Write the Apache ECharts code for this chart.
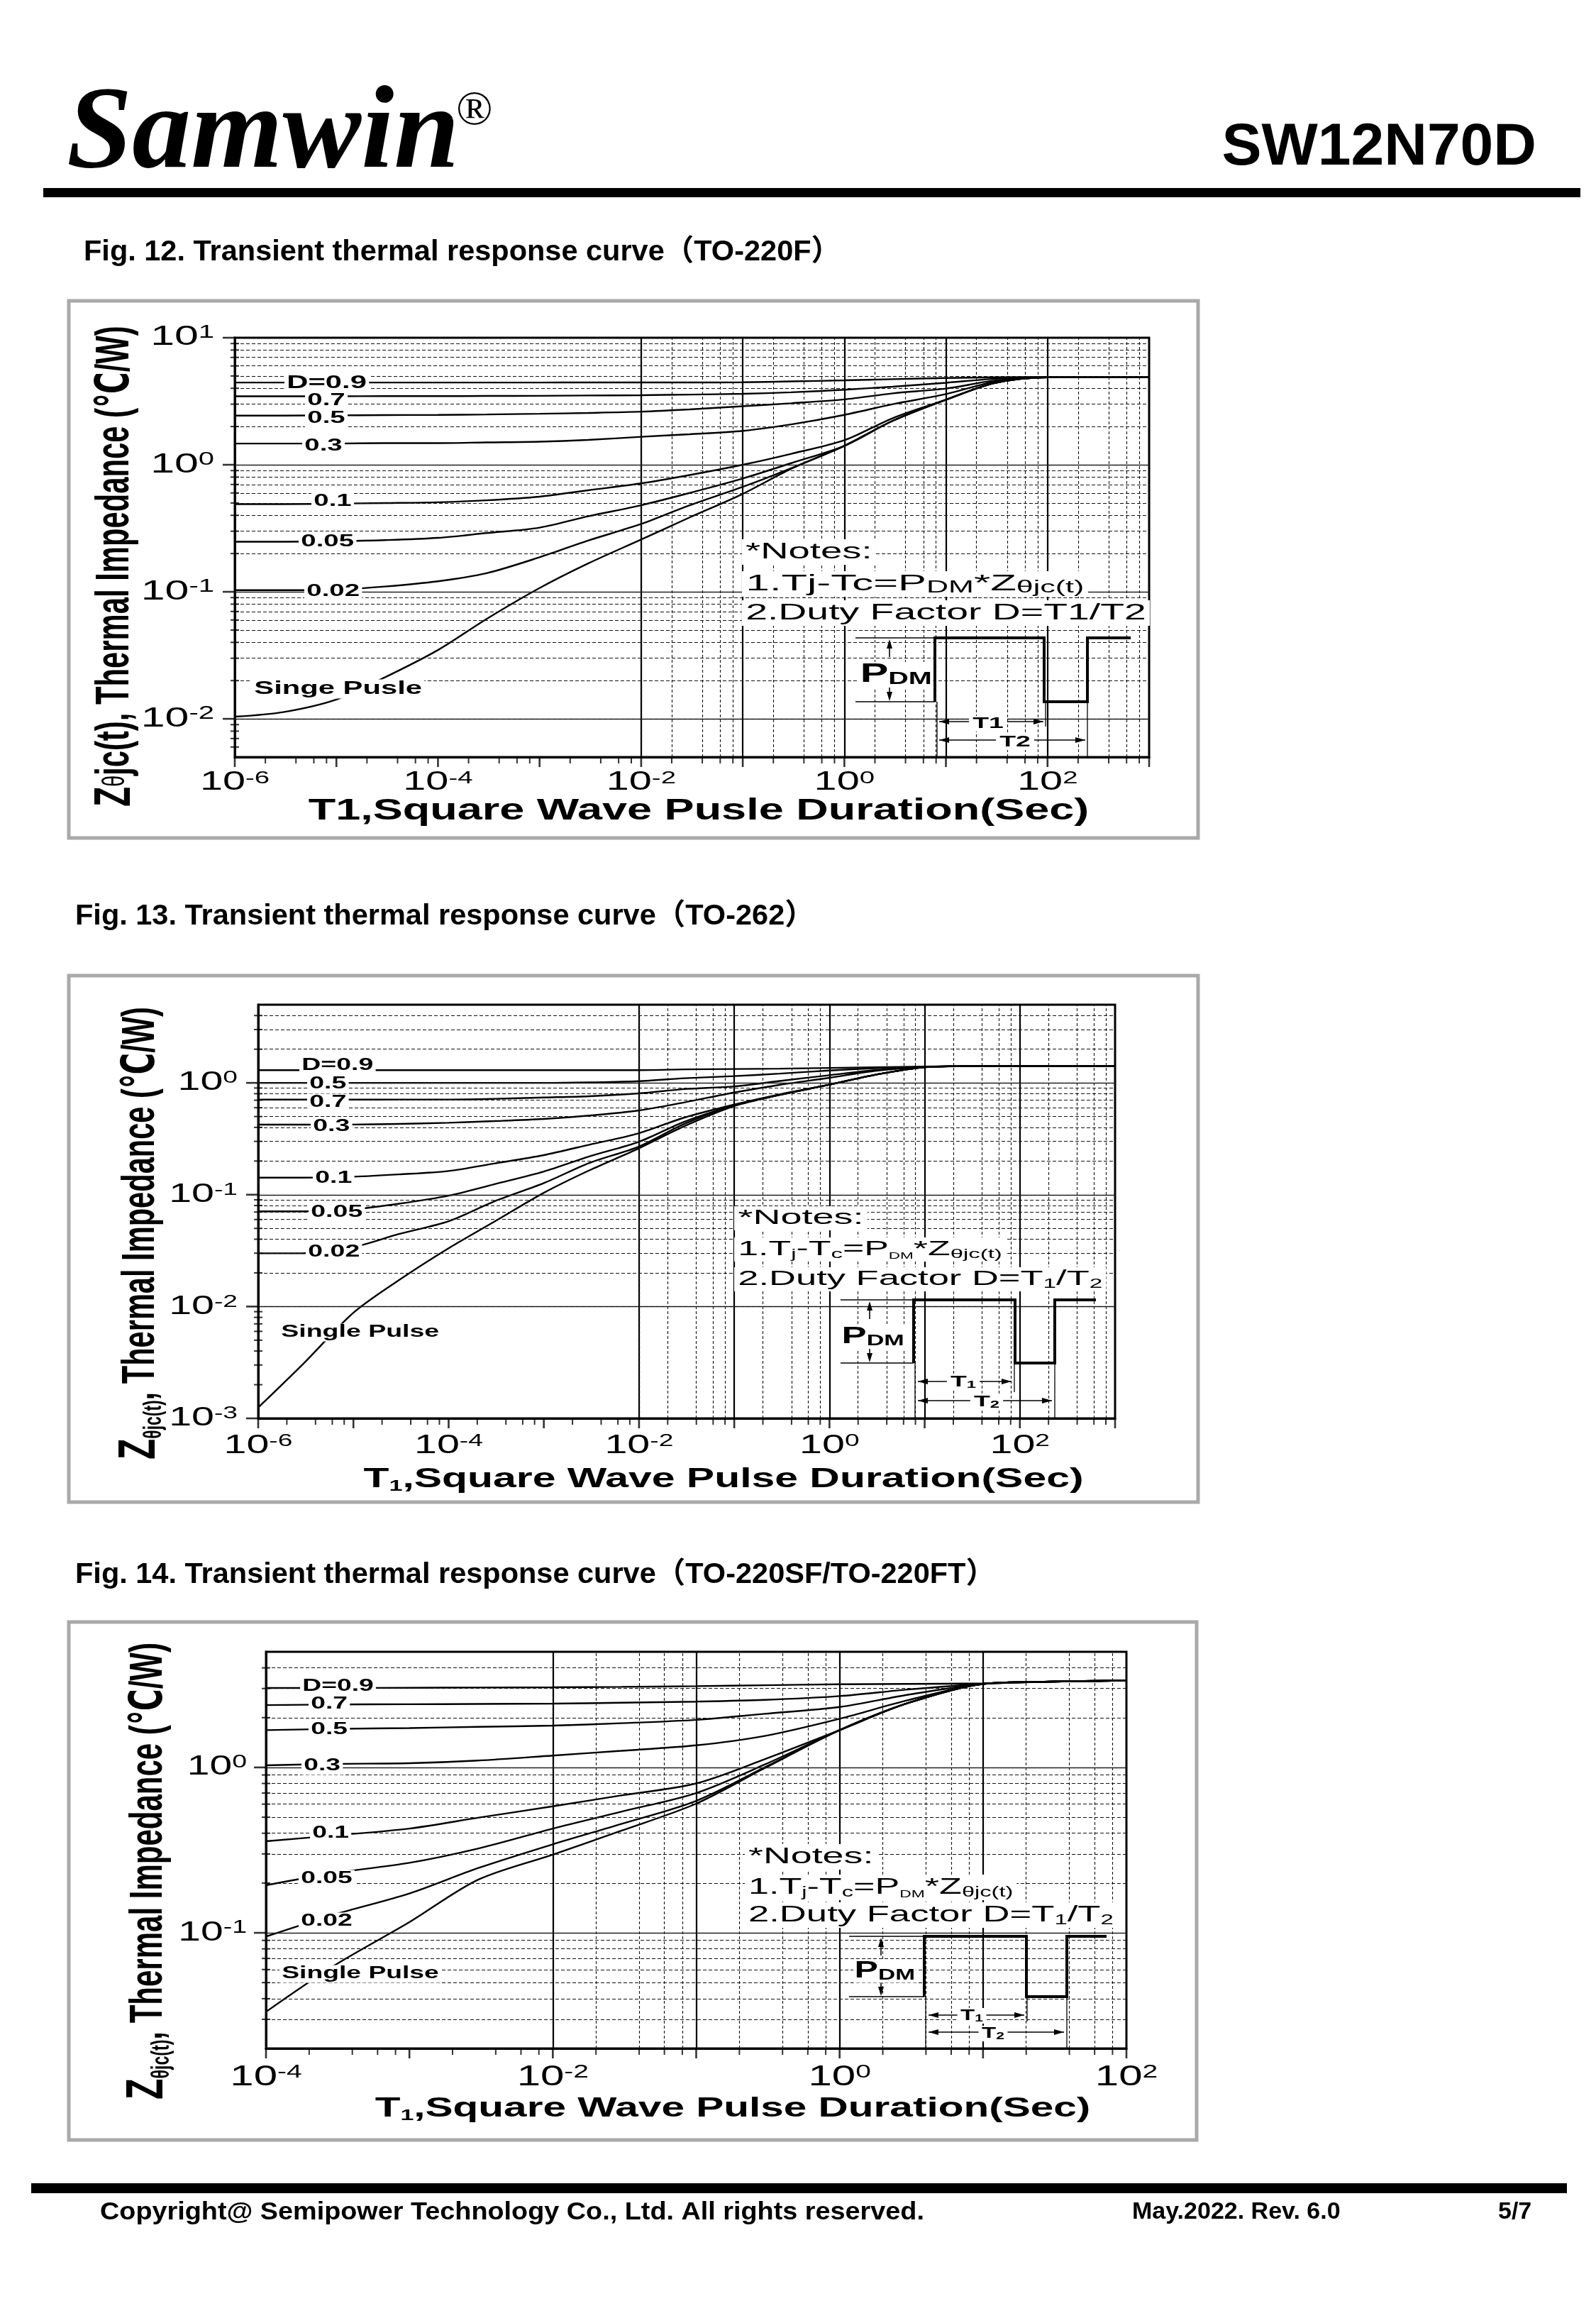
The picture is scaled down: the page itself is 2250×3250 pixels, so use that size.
<!DOCTYPE html>
<html>
<head>
<meta charset="utf-8">
<script src="https://cdn.jsdelivr.net/npm/echarts/dist/echarts.min.js"></script>
<style>
html,body{margin:0;padding:0;background:#fff;}
#c{width:2250px;height:3250px;}
</style>
</head>
<body>
<div id="c"></div>
<script>
// ---------------- DATA ----------------
const curveNames = ['D=0.9','D=0.7','D=0.5','D=0.3','D=0.1','D=0.05','D=0.02','Single Pulse'];
const curveNames13 = ['D=0.9','D=0.5','D=0.7','D=0.3','D=0.1','D=0.05','D=0.02','Single Pulse'];

// Fig.12 TO-220F  (t in s, Zth in degC/W)
const f12_t      = [1e-6,3e-6,1e-5,3e-5,1e-4,3e-4,1e-3,3e-3,1e-2,3e-2,0.1,0.3,1,3,10,30,100,300,1000];
const f12_d09    = [4.44,4.44,4.44,4.44,4.44,4.44,4.44,4.45,4.45,4.45,4.46,4.53,4.62,4.72,4.82,4.88,4.9,4.9,4.9];
const f12_d07    = [3.46,3.46,3.46,3.47,3.47,3.48,3.49,3.51,3.53,3.57,3.62,3.72,3.9,4.12,4.42,4.75,4.9,4.9,4.9];
const f12_d05    = [2.44,2.44,2.45,2.46,2.47,2.49,2.52,2.56,2.62,2.73,2.89,3.05,3.27,3.65,3.98,4.6,4.9,4.9,4.9];
const f12_d03    = [1.47,1.47,1.47,1.48,1.48,1.5,1.52,1.57,1.66,1.74,1.85,2.08,2.47,3.0,3.6,4.5,4.9,4.9,4.9];
const f12_d01    = [0.49,0.49,0.495,0.5,0.507,0.525,0.561,0.63,0.714,0.83,1.0,1.22,1.56,2.33,3.25,4.4,4.88,4.9,4.9];
const f12_d005   = [0.248,0.248,0.25,0.255,0.266,0.29,0.32,0.393,0.48,0.6,0.78,1.03,1.41,2.22,3.25,4.4,4.88,4.9,4.9];
const f12_d002   = [0.103,0.103,0.104,0.11,0.121,0.14,0.187,0.253,0.342,0.48,0.67,0.94,1.41,2.22,3.25,4.4,4.88,4.9,4.9];
const f12_single = [0.0104,0.0113,0.0142,0.0212,0.0348,0.061,0.107,0.167,0.258,0.385,0.59,0.93,1.41,2.22,3.25,4.4,4.88,4.9,4.9];
const f12_xRange = [1e-6, 1e3];
const f12_yRange = [0.005, 10];
const f12_xLabelExp = [-6,-4,-2,0,2];
const f12_yLabelExp = [1,0,-1,-2];

// Fig.13 TO-262
const f13_t      = [1e-6,3e-6,1e-5,3e-5,1e-4,3e-4,1e-3,3e-3,1e-2,3e-2,0.1,0.3,1,3,10,30,100,300,1000];
const f13_d09    = [1.3,1.3,1.3,1.3,1.3,1.3,1.3,1.3,1.3,1.32,1.33,1.34,1.36,1.38,1.4,1.41,1.41,1.41,1.41];
const f13_d05    = [1.0,1.0,1.0,1.0,1.0,1.0,1.0,1.01,1.035,1.1,1.15,1.21,1.29,1.35,1.39,1.41,1.41,1.41,1.41];
const f13_d07    = [0.708,0.708,0.708,0.71,0.71,0.72,0.74,0.76,0.805,0.88,0.93,1.04,1.17,1.3,1.38,1.41,1.41,1.41,1.41];
const f13_d03    = [0.423,0.423,0.424,0.43,0.44,0.455,0.476,0.51,0.567,0.67,0.82,0.96,1.11,1.28,1.38,1.41,1.41,1.41,1.41];
const f13_d01    = [0.142,0.142,0.145,0.152,0.163,0.19,0.226,0.28,0.355,0.49,0.64,0.79,0.965,1.18,1.38,1.41,1.41,1.41,1.41];
const f13_d005   = [0.071,0.071,0.074,0.083,0.098,0.124,0.161,0.22,0.298,0.45,0.63,0.78,0.965,1.18,1.38,1.41,1.41,1.41,1.41];
const f13_d002   = [0.0299,0.03,0.034,0.0445,0.058,0.087,0.127,0.192,0.27,0.43,0.63,0.78,0.965,1.18,1.38,1.41,1.41,1.41,1.41];
const f13_single = [0.00125,0.0031,0.0088,0.0172,0.0332,0.0572,0.104,0.165,0.26,0.41,0.62,0.78,0.965,1.18,1.38,1.41,1.41,1.41,1.41];
const f13_xRange = [1e-6, 1e3];
const f13_yRange = [0.001, 5];
const f13_xLabelExp = [-6,-4,-2,0,2];
const f13_yLabelExp = [0,-1,-2,-3];

// Fig.14 TO-220SF/TO-220FT
const f14_t      = [1e-4,3e-4,1e-3,3e-3,1e-2,3e-2,0.1,0.3,1,3,10,30,100];
const f14_d09    = [3.02,3.02,3.03,3.04,3.05,3.07,3.1,3.14,3.18,3.2,3.22,3.3,3.35];
const f14_d07    = [2.38,2.4,2.41,2.42,2.43,2.46,2.5,2.56,2.7,2.96,3.2,3.3,3.35];
const f14_d05    = [1.68,1.71,1.73,1.76,1.79,1.85,1.94,2.11,2.32,2.75,3.2,3.3,3.35];
const f14_d03    = [1.03,1.05,1.06,1.1,1.18,1.26,1.36,1.55,1.97,2.55,3.2,3.3,3.35];
const f14_d01    = [0.358,0.388,0.427,0.496,0.582,0.677,0.8,1.12,1.68,2.45,3.2,3.3,3.35];
const f14_d005   = [0.194,0.23,0.265,0.323,0.427,0.54,0.7,1.04,1.68,2.45,3.2,3.3,3.35];
const f14_d002   = [0.095,0.129,0.173,0.246,0.343,0.455,0.628,1.0,1.68,2.45,3.2,3.3,3.35];
const f14_single = [0.0333,0.0635,0.116,0.209,0.297,0.414,0.604,0.99,1.68,2.45,3.2,3.3,3.35];
const f14_xRange = [1e-4, 1e2];
const f14_yRange = [0.02, 5];
const f14_xLabelExp = [-4,-2,0,2];
const f14_yLabelExp = [0,-1];

// minor grid mantissas
const minorXMant = [2,4,6,8];
const minorYMant = [2,3,4,5,6,7,8,9];

// ---------------- LAYOUT ----------------
const FONT = "'Liberation Sans','DejaVu Sans','Noto Sans CJK SC',sans-serif";
const SERIF = "'Liberation Serif','DejaVu Serif',serif";

const FIGS = [
  { T:f12_t, data:[f12_d09,f12_d07,f12_d05,f12_d03,f12_d01,f12_d005,f12_d002,f12_single], names:curveNames,
    xr:f12_xRange, yr:f12_yRange, xLab:f12_xLabelExp, yLab:f12_yLabelExp,
    grid:{left:331, top:476, width:1289, height:591},
    tick:{xFs:36, xSc:1.6, xDy:36, yFs:38, ySc:1.6, yRight:302} },
  { T:f13_t, data:[f13_d09,f13_d05,f13_d07,f13_d03,f13_d01,f13_d005,f13_d002,f13_single], names:curveNames13,
    xr:f13_xRange, yr:f13_yRange, xLab:f13_xLabelExp, yLab:f13_yLabelExp,
    grid:{left:364, top:1416, width:1208, height:583},
    tick:{xFs:37, xSc:1.55, xDy:39, yFs:37, ySc:1.55, yRight:335} },
  { T:f14_t, data:[f14_d09,f14_d07,f14_d05,f14_d03,f14_d01,f14_d005,f14_d002,f14_single], names:curveNames,
    xr:f14_xRange, yr:f14_yRange, xLab:f14_xLabelExp, yLab:f14_yLabelExp,
    grid:{left:375, top:2328, width:1213, height:559},
    tick:{xFs:40, xSc:1.5, xDy:41, yFs:38, ySc:1.5, yRight:348} }
];

function decades(lo, hi){ const o=[]; for(let e=Math.floor(Math.log10(lo)+1e-9); e<=Math.ceil(Math.log10(hi)-1e-9); e++) o.push(e); return o; }
function minorVals(lo, hi, mants){ const o=[]; decades(lo,hi).forEach(e=>mants.forEach(m=>{ const v=+(m*Math.pow(10,e)).toPrecision(6); if(v>lo*1.0001 && v<hi*0.9999) o.push(v);})); return o; }
function majorVals(lo, hi){ return decades(lo,hi).map(e=>+Math.pow(10,e).toPrecision(6)).filter(v=>v>=lo*0.9999 && v<=hi*1.0001); }

const chart = echarts.init(document.getElementById('c'), null, {renderer:'canvas', width:2250, height:3250});

const grids=[], xAxes=[], yAxes=[], series=[];
FIGS.forEach((f,i)=>{
  grids.push(Object.assign({show:true, borderColor:'#000', borderWidth:3, backgroundColor:'rgba(0,0,0,0)', containLabel:false}, f.grid));
  const axBase = {type:'log', logBase:10, gridIndex:i, axisLine:{show:true, onZero:false, lineStyle:{color:'#000', width:3}},
    axisTick:{show:false}, axisLabel:{show:false}, splitLine:{show:false}, minorTick:{show:false}, minorSplitLine:{show:false}};
  xAxes.push(Object.assign({}, axBase, {min:f.xr[0], max:f.xr[1]}));
  yAxes.push(Object.assign({}, axBase, {min:f.yr[0], max:f.yr[1]}));

  const xMaj = majorVals(f.xr[0], f.xr[1]);
  const yMaj = majorVals(f.yr[0], f.yr[1]);
  const xMin = minorVals(f.xr[0], f.xr[1], minorXMant);
  const yMin = minorVals(f.yr[0], f.yr[1], minorYMant);
  const inner = (v, r)=> v>r[0]*1.0001 && v<r[1]*0.9999;
  const tickData = [].concat(
    xMaj.map(v=>({value:[v, f.yr[0]], symbolSize:[2.6,14], symbolOffset:[0,7]})),
    xMin.map(v=>({value:[v, f.yr[0]], symbolSize:[2,9], symbolOffset:[0,4.5]})),
    yMaj.map(v=>({value:[f.xr[0], v], symbolSize:[17,2.6], symbolOffset:[-8.5,0]})),
    yMin.map(v=>({value:[f.xr[0], v], symbolSize:[12,2], symbolOffset:[0,0]}))
  );
  const mlData = [].concat(
    xMaj.filter(v=>inner(v,f.xr)).map(v=>({xAxis:v, lineStyle:{type:'solid', width:2.2, color:'#000'}})),
    xMin.map(v=>({xAxis:v, lineStyle:{type:[4,3], width:1.1, color:'#111'}})),
    yMaj.filter(v=>inner(v,f.yr)).map(v=>({yAxis:v, lineStyle:{type:'solid', width:1.3, color:'#222'}})),
    yMin.map(v=>({yAxis:v, lineStyle:{type:[5,3], width:1.1, color:'#111'}}))
  );
  series.push({type:'scatter', name:'grid'+i, xAxisIndex:i, yAxisIndex:i, silent:true, clip:false, z:2,
    symbol:'rect', itemStyle:{color:'#000'}, data:tickData, animation:false,
    markLine:{silent:true, symbol:['none','none'], animation:false, label:{show:false}, emphasis:{disabled:true}, data:mlData}});
  f.data.forEach((arr,k)=>{
    series.push({type:'line', name:f.names[k], xAxisIndex:i, yAxisIndex:i, z:4, silent:true, animation:false,
      data:f.T.map((t,j)=>[t, arr[j]]), showSymbol:false, symbol:'none', smooth:0.3,
      lineStyle:{color:'#000', width:2.4}});
  });
});

chart.setOption({animation:false, backgroundColor:'#fff', grid:grids, xAxis:xAxes, yAxis:yAxes, series:series});

// ---------------- GRAPHIC (texts & decorations) ----------------
function TX(x, y, text, style, extra){
  const s = Object.assign({text:text, fill:'#000', fontFamily:FONT, fontSize:20, textAlign:'left', textVerticalAlign:'middle'}, style||{});
  return Object.assign({type:'text', x:x, y:y, z:100, silent:true, style:s}, extra||{});
}
function LN(x1,y1,x2,y2,w){ return {type:'line', z:100, silent:true, shape:{x1:x1,y1:y1,x2:x2,y2:y2}, style:{stroke:'#000', lineWidth:w||1.3}}; }
function PLN(pts,w){ return {type:'polyline', z:100, silent:true, shape:{points:pts}, style:{stroke:'#000', lineWidth:w, fill:null, lineJoin:'miter'}}; }
function TRI(pts){ return {type:'polygon', z:100, silent:true, shape:{points:pts}, style:{fill:'#000'}}; }
function RECT(x,y,w,h,style){ return {type:'rect', z:99, silent:true, shape:{x:x,y:y,width:w,height:h}, style:style}; }

const G = [];
// header
G.push(TX(94, 192, 'Samwin', {fontFamily:SERIF, fontSize:166, fontWeight:'bold', fontStyle:'italic'}));
G.push(TX(643, 157, '®', {fontFamily:SERIF, fontSize:68}));
G.push(TX(2166, 209, 'SW12N70D', {fontSize:84, fontWeight:'bold', textAlign:'right'}));
G.push(RECT(61, 265, 2167, 13, {fill:'#000'}));
// figure titles
G.push(TX(118, 356, 'Fig. 12. Transient thermal response curve（TO-220F）', {fontSize:41.5, fontWeight:'bold'}));
G.push(TX(106, 1292, 'Fig. 13. Transient thermal response curve（TO-262）', {fontSize:41.5, fontWeight:'bold'}));
G.push(TX(106, 2220, 'Fig. 14. Transient thermal response curve（TO-220SF/TO-220FT）', {fontSize:41.5, fontWeight:'bold'}));
// footer
G.push(RECT(44, 3077, 2165, 14, {fill:'#000'}));
G.push(TX(141, 3118, 'Copyright@ Semipower Technology Co., Ltd. All rights reserved.', {fontSize:35, fontWeight:'bold'}, {scaleX:1.08}));
G.push(TX(1596, 3118, 'May.2022. Rev. 6.0', {fontSize:34, fontWeight:'bold'}));
G.push(TX(2112, 3118, '5/7', {fontSize:34, fontWeight:'bold'}));
// frames
G.push(RECT(97, 424, 1592, 757, {fill:null, stroke:'#a9a9a9', lineWidth:5}));
G.push(RECT(97, 1375, 1592, 742, {fill:null, stroke:'#a9a9a9', lineWidth:5}));
G.push(RECT(97, 2286, 1590, 730, {fill:null, stroke:'#a9a9a9', lineWidth:5}));

// tick labels (positions from the axes)
FIGS.forEach((f,i)=>{
  const t = f.tick;
  const rich = fs=>({b:{fontSize:fs, lineHeight:fs, fontFamily:FONT}, s:{fontSize:Math.round(fs*0.66), lineHeight:4, verticalAlign:'top', fontFamily:FONT}});
  f.xLab.forEach(e=>{
    const p = chart.convertToPixel({gridIndex:i}, [Math.pow(10,e), f.yr[0]]);
    G.push(TX(p[0], p[1]+t.xDy, '{b|10}{s|'+e+'}', {textAlign:'center', fontSize:t.xFs, rich:rich(t.xFs)}, {scaleX:t.xSc}));
  });
  f.yLab.forEach(e=>{
    const p = chart.convertToPixel({gridIndex:i}, [f.xr[0], Math.pow(10,e)]);
    G.push(TX(t.yRight, p[1], '{b|10}{s|'+e+'}', {textAlign:'right', fontSize:t.yFs, rich:rich(t.yFs)}, {scaleX:t.ySc}));
  });
});

// axis titles
G.push(TX(163, 798, '{z|Z}{th|θ}jc(t), Thermal Impedance (℃/W)', {textAlign:'center', fontSize:44, fontWeight:'bold', lineHeight:48,
  rich:{z:{fontSize:48, fontWeight:'bold', lineHeight:48}, th:{fontSize:30, fontWeight:'normal', lineHeight:48}}},
  {rotation:Math.PI/2, scaleX:0.95, scaleY:1.5}));
G.push(TX(985, 1143, 'T1,Square Wave Pusle Duration(Sec)', {textAlign:'center', fontSize:42, fontWeight:'bold'}, {scaleX:1.5}));

G.push(TX(199, 1738, '{z|Z}{s|θjc(t)}, Thermal Impedance (℃/W)', {textAlign:'center', fontSize:40, fontWeight:'bold', lineHeight:44,
  rich:{z:{fontSize:46, fontWeight:'bold', lineHeight:44, verticalAlign:'bottom'}, s:{fontSize:22, fontWeight:'bold', lineHeight:24, verticalAlign:'bottom'}}},
  {rotation:Math.PI/2, scaleX:1.04, scaleY:1.62}));
G.push(TX(1020, 2086, 'T{s|1},Square Wave Pulse Duration(Sec)', {textAlign:'center', fontSize:38, fontWeight:'bold', lineHeight:40,
  rich:{s:{fontSize:22, fontWeight:'bold', lineHeight:24, verticalAlign:'bottom'}}}, {scaleX:1.55}));

G.push(TX(210, 2637, '{z|Z}{s|θjc(t)}, Thermal Impedance (℃/W)', {textAlign:'center', fontSize:40, fontWeight:'bold', lineHeight:44,
  rich:{z:{fontSize:46, fontWeight:'bold', lineHeight:44, verticalAlign:'bottom'}, s:{fontSize:22, fontWeight:'bold', lineHeight:24, verticalAlign:'bottom'}}},
  {rotation:Math.PI/2, scaleX:1.05, scaleY:1.62}));
G.push(TX(1033, 2973, 'T{s|1},Square Wave Pulse Duration(Sec)', {textAlign:'center', fontSize:38, fontWeight:'bold', lineHeight:40,
  rich:{s:{fontSize:22, fontWeight:'bold', lineHeight:24, verticalAlign:'bottom'}}}, {scaleX:1.54}));

// curve labels
const curveLabels = [
  {sc:1.67, items:[['D=0.9',401,540,25],['0.7',430,565,23],['0.5',430,590,23],['0.3',426,629,23],['0.1',439,707,23],['0.05',421,764,23],['0.02',429,834,23],['Singe Pusle',355,971,25]]},
  {sc:1.63, items:[['D=0.9',422,1502,23],['0.5',433,1528,23],['0.7',433,1554,23],['0.3',438,1588,23],['0.1',441,1661,23],['0.05',435,1709,23],['0.02',431,1765,23],['Single Pulse',393,1878,23]]},
  {sc:1.62, items:[['D=0.9',423,2377,23],['0.7',435,2402,23],['0.5',435,2438,23],['0.3',425,2489,23],['0.1',437,2584,23],['0.05',421,2648,23],['0.02',421,2708,23],['Single Pulse',394,2782,23]]}
];
curveLabels.forEach(cl=>cl.items.forEach(it=>{
  G.push(TX(it[1], it[2], it[0], {fontSize:it[3], fontWeight:'bold', backgroundColor:'#fff', padding:[1,2]}, {scaleX:cl.sc}));
}));

// notes
function notes(x, ys, fs, scs, sub){
  const bg = {backgroundColor:'#fff', padding:[1,3]};
  G.push(TX(x, ys[0], '*Notes:', Object.assign({fontSize:fs, lineHeight:fs+2}, bg), {scaleX:scs[0]}));
  if(!sub){
    G.push(TX(x, ys[1], '1.Tj-Tc=P{s|DM}*Z{s|θjc(t)}', Object.assign({fontSize:fs, lineHeight:fs+2,
      rich:{s:{fontSize:Math.round(fs*0.72), lineHeight:Math.round(fs*0.8), verticalAlign:'bottom'}}}, bg), {scaleX:scs[1]}));
    G.push(TX(x, ys[2], '2.Duty Factor D=T1/T2', Object.assign({fontSize:fs, lineHeight:fs+2}, bg), {scaleX:scs[2]}));
  } else {
    G.push(TX(x, ys[1], '1.T{s|j}-T{s|c}=P{ss|DM}*Z{s|θjc(t)}', Object.assign({fontSize:fs, lineHeight:fs+2,
      rich:{s:{fontSize:Math.round(fs*0.62), lineHeight:Math.round(fs*0.62), verticalAlign:'bottom'},
            ss:{fontSize:Math.round(fs*0.44), lineHeight:Math.round(fs*0.5), verticalAlign:'bottom'}}}, bg), {scaleX:scs[1]}));
    G.push(TX(x, ys[2], '2.Duty Factor D=T{s|1}/T{s|2}', Object.assign({fontSize:fs, lineHeight:fs+2,
      rich:{s:{fontSize:Math.round(fs*0.62), lineHeight:Math.round(fs*0.62), verticalAlign:'bottom'}}}, bg), {scaleX:scs[2]}));
  }
}
notes(1046, [778, 823, 864], 32, [1.7, 1.87, 1.73], false);
notes(1035, [1717, 1761, 1803], 30, [1.8, 1.73, 1.75], true);
notes(1050, [2617, 2660, 2699], 32, [1.68, 1.63, 1.645], true);

// pulse diagrams
function pulse(p){
  G.push(LN(p.xl, p.yt, p.xr1, p.yt, 1.3), LN(p.xl, p.yb, p.xr1, p.yb, 1.3));
  G.push(PLN([[p.xr1,p.yb],[p.xr1,p.yt],[p.xf,p.yt],[p.xf,p.yb],[p.xr2,p.yb],[p.xr2,p.yt],[p.xe,p.yt]], 4));
  G.push(LN(p.v1, p.yb, p.v1, p.ybase, 1.3), LN(p.v2, p.yb, p.v2, p.v2b, 1.3), LN(p.v3, p.yb, p.v3, p.ybase, 1.3));
  G.push(TRI([[p.xa,p.yt+2],[p.xa-4,p.yt+15],[p.xa+4,p.yt+15]]), LN(p.xa,p.yt+15,p.xa,p.yt+27,1.6));
  G.push(TRI([[p.xa,p.yb-1],[p.xa-4,p.yb-14],[p.xa+4,p.yb-14]]), LN(p.xa,p.yb-14,p.xa,p.yb-26,1.6));
  [[p.t1y,p.t1a,p.t1b],[p.t2y,p.t2a,p.t2b]].forEach(a=>{
    const y=a[0], x1=a[1], x2=a[2];
    G.push(LN(x1,y,x2,y,1.3), TRI([[x1,y],[x1+14,y-4],[x1+14,y+4]]), TRI([[x2,y],[x2-14,y-4],[x2-14,y+4]]));
  });
  G.push(TX(p.pdmX, p.pdmY, 'P{d|DM}', {fontSize:p.pfs, fontWeight:'bold', lineHeight:p.pfs, backgroundColor:'#fff', padding:[0,1],
    rich:{d:{fontSize:p.dfs, fontWeight:'bold', lineHeight:p.dfs, verticalAlign:'bottom'}}}, {scaleX:p.psc}));
  const tt = p.sub ? ['T{s|1}','T{s|2}'] : ['T1','T2'];
  [[tt[0], p.t1l],[tt[1], p.t2l]].forEach(a=>{
    G.push(TX(a[1][0], a[1][1], a[0], {textAlign:'center', fontSize:22, fontWeight:'bold', lineHeight:22, backgroundColor:'#fff', padding:[0,3],
      rich:{s:{fontSize:14, fontWeight:'bold', lineHeight:14, verticalAlign:'bottom'}}}, {scaleX:p.tsc}));
  });
}
pulse({xl:1206, xr1:1318, xf:1472, xr2:1533, xe:1594, yt:899, yb:989, ybase:1067, xa:1254,
  v1:1321, v2:1474, v2b:1024, v3:1533, t1y:1017, t1a:1324, t1b:1471, t2y:1043, t2a:1324, t2b:1530,
  pdmX:1211, pdmY:951, pfs:36, dfs:24, psc:1.65, t1l:[1393,1020], t2l:[1431,1046], tsc:1.7, sub:false});
pulse({xl:1185, xr1:1288, xf:1431, xr2:1487, xe:1545, yt:1832, yb:1921, ybase:1999, xa:1226,
  v1:1290, v2:1430, v2b:1962, v3:1487, t1y:1947, t1a:1294, t1b:1426, t2y:1974, t2a:1294, t2b:1483,
  pdmX:1185, pdmY:1884, pfs:34, dfs:22, psc:1.55, t1l:[1358,1948], t2l:[1391,1976], tsc:1.7, sub:true});
pulse({xl:1197, xr1:1303, xf:1447, xr2:1504, xe:1560, yt:2729, yb:2814, ybase:2887, xa:1242,
  v1:1305, v2:1448, v2b:2849, v3:1504, t1y:2840, t1a:1309, t1b:1444, t2y:2864, t2a:1309, t2b:1500,
  pdmX:1203, pdmY:2778, pfs:33, dfs:22, psc:1.52, t1l:[1370,2841], t2l:[1400,2866], tsc:1.5, sub:true});

chart.setOption({graphic:{elements:G}});
</script>
</body>
</html>
